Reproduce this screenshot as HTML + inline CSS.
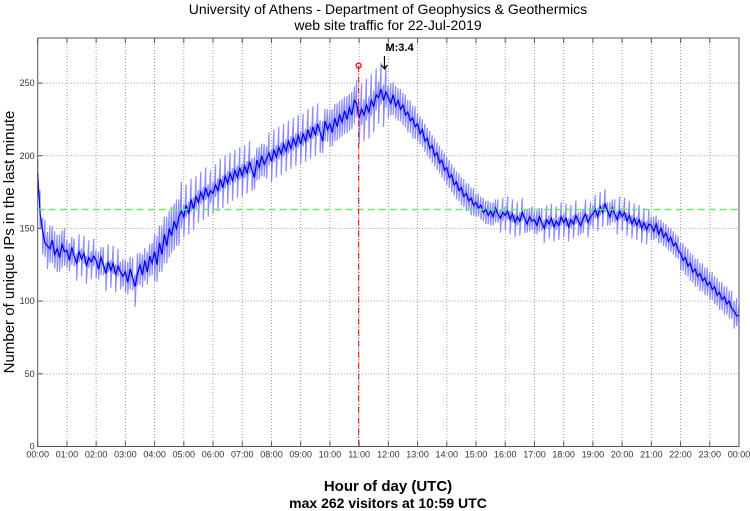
<!DOCTYPE html>
<html><head><meta charset="utf-8"><style>
body{margin:0;background:#fff;}
svg{display:block;font-family:"Liberation Sans",sans-serif;}
</style></head><body>
<svg id="chart" width="750" height="511">
<text x="388" y="14" font-size="14" text-anchor="middle">University of Athens - Department of Geophysics &amp; Geothermics</text>
<text x="388" y="30" font-size="14" text-anchor="middle">web site traffic for 22-Jul-2019</text>
<text x="388" y="491" font-size="15" font-weight="bold" text-anchor="middle">Hour of day (UTC)</text>
<text x="388" y="508" font-size="14" font-weight="bold" text-anchor="middle">max 262 visitors at 10:59 UTC</text>
<text transform="translate(14,242) rotate(-90)" font-size="15" text-anchor="middle">Number of unique IPs in the last minute</text>
<g id="grid"></g><g id="series"></g><g id="axes"></g>
</svg>
<script>
const hourLabels=["00:00","01:00","02:00","03:00","04:00","05:00","06:00","07:00","08:00","09:00","10:00","11:00","12:00","13:00","14:00","15:00","16:00","17:00","18:00","19:00","20:00","21:00","22:00","23:00","00:00"];
const yTicks=[0,50,100,150,200,250];
const visitors5min=[
188,160,148,140,138,136,142,132,136,130,139,134,
135,128,137,131,126,134,129,133,124,130,127,131,
128,122,130,125,119,127,121,126,118,124,120,117,
120,113,122,116,110,119,125,118,128,120,131,126,
134,125,140,132,146,138,150,145,155,150,158,162,
158,166,160,170,163,172,168,175,170,178,172,176,
174,180,176,184,178,186,181,188,183,190,185,192,
186,193,188,196,190,185,197,192,200,194,198,202,
196,204,199,206,201,208,203,210,205,212,207,214,
208,215,210,218,212,220,214,222,216,210,224,218,
222,216,226,220,228,223,231,225,233,228,238,236,
226,232,228,235,230,238,234,242,240,246,238,244,
240,236,242,234,238,232,235,228,230,224,226,220,
222,215,218,210,212,205,207,200,202,195,197,190,
192,185,187,180,182,176,178,172,174,169,171,166,
168,164,166,161,163,159,162,158,164,160,157,161,
159,162,156,160,154,158,155,161,157,153,158,155,
156,152,158,154,150,156,153,157,151,155,152,158,
154,157,151,156,153,159,155,152,157,160,154,158,
160,163,158,165,161,167,162,158,164,160,156,162,
158,161,155,159,153,157,152,156,150,154,149,153,
152,148,153,146,150,144,147,141,144,138,140,135,
133,128,130,124,126,120,122,117,119,114,116,111,
113,108,110,104,106,101,103,98,100,95,93,90,
90];
const hourlySpread=[16,12,12,14,20,14,14,14,14,14,16,18,14,12,12,10,10,10,10,10,10,10,12,12];
const meanLevel=163;
const maxValue=262, maxMinute=659;
const quakeMinute=712, quakeLabel="M:3.4";

const L=37.7,R=739,T=38,B=446.5,YMAX=281;
const xS=m=>L+(R-L)*m/1440;
const yS=v=>B-(B-T)*v/YMAX;
const NS="http://www.w3.org/2000/svg";
function mk(tag,attrs,parent){const e=document.createElementNS(NS,tag);for(const k in attrs)e.setAttribute(k,attrs[k]);parent.appendChild(e);return e;}
const grid=document.getElementById('grid'),series=document.getElementById('series'),axes=document.getElementById('axes');

hourLabels.forEach((lab,i)=>{
  const x=xS(i*60);
  if(i>0&&i<24){const g=mk('line',{x1:x,x2:x,y1:T,y2:B,stroke:'#999','stroke-dasharray':'1,2','stroke-width':1},grid);
  }
  const tk=mk('line',{x1:x,x2:x,y1:B,y2:B-5,stroke:'#555'},axes);
  
  const tk2=mk('line',{x1:x,x2:x,y1:T,y2:T+5,stroke:'#555'},axes);
  
  const t=mk('text',{x:x,y:B+11,'font-size':9,'text-anchor':'middle',fill:'#333'},axes);t.textContent=lab;
  
});
yTicks.forEach(v=>{
  const y=yS(v);
  if(v>0){const g=mk('line',{x1:L,x2:R,y1:y,y2:y,stroke:'#999','stroke-dasharray':'1,2'},grid);
  }
  const tk=mk('line',{x1:L,x2:L+5,y1:y,y2:y,stroke:'#555'},axes);
  
  const t=mk('text',{x:L-3,y:y+3,'font-size':9,'text-anchor':'end',fill:'#333'},axes);t.textContent=v;
  
});
const frame=mk('rect',{x:L,y:T,width:R-L,height:B-T,fill:'none',stroke:'#555','stroke-width':1},axes);


let up=[],dn=[];
visitors5min.forEach((v,i)=>{const m=i*5;const s=hourlySpread[Math.min(23,Math.floor(m/60))];
  up.push(xS(m).toFixed(1)+','+yS(v+s*(i%2?1:0.6)).toFixed(1));
  dn.push(xS(m).toFixed(1)+','+yS(v-s*(i%2?0.6:1)).toFixed(1));});
const band=mk('polyline',{points:up.map((p,i)=>p+' '+dn[i]).join(' '),fill:'none',stroke:'#7070ff','stroke-width':1.2,'stroke-opacity':0.8},series);

const line=mk('polyline',{points:visitors5min.map((v,i)=>xS(i*5).toFixed(1)+','+yS(v).toFixed(1)).join(' '),fill:'none',stroke:'#0000ee','stroke-width':1.2},series);


const mean=mk('line',{x1:L,x2:R,y1:yS(meanLevel),y2:yS(meanLevel),stroke:'#66ee66','stroke-width':1.5,'stroke-dasharray':'7,4'},series);

const mx=xS(maxMinute);
const red=mk('line',{x1:mx,x2:mx,y1:yS(maxValue),y2:B,stroke:'#e00','stroke-width':1,'stroke-dasharray':'6,2,1,2'},series);

const c=mk('circle',{cx:mx,cy:yS(maxValue),r:2.5,fill:'none',stroke:'#e00','stroke-width':1.2},series);

const qx=xS(quakeMinute);
const ar=mk('path',{d:`M${qx},${T+18} V${T+31} M${qx-3},${T+27} L${qx},${T+31} L${qx+3},${T+27}`,stroke:'#000',fill:'none','stroke-width':1.2},series);

const qt=mk('text',{x:qx+1,y:T+13,'font-size':11,'font-weight':'bold'},series);qt.textContent=quakeLabel;

</script>
</body></html>
